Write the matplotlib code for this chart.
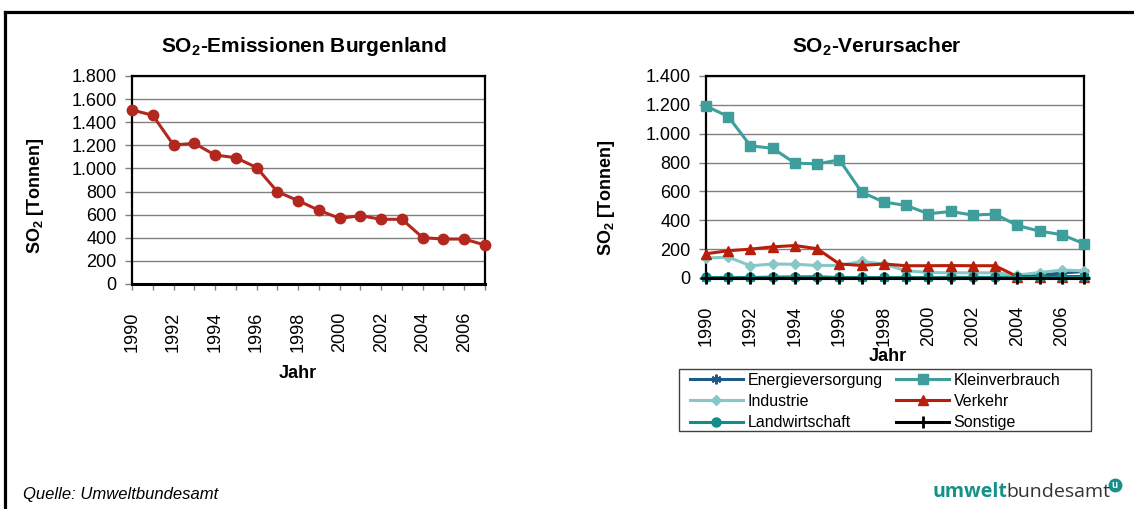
import matplotlib
matplotlib.use("Agg")
import matplotlib.pyplot as plt
from matplotlib.ticker import FuncFormatter, MultipleLocator
from matplotlib.lines import Line2D
from matplotlib.patches import Rectangle

plt.rcParams['font.family'] = ['Liberation Sans', 'DejaVu Sans']
plt.rcParams['mathtext.fontset'] = 'custom'
plt.rcParams['mathtext.rm'] = 'Liberation Sans'
plt.rcParams['mathtext.bf'] = 'Liberation Sans:bold'
plt.rcParams['mathtext.it'] = 'Liberation Sans:italic'

# ---------------- data ----------------
years = list(range(1990, 2008))
total = [1506, 1460, 1203, 1217, 1116, 1093, 1008, 799, 721, 638, 568, 591, 560, 560, 401, 389, 389, 337]

sector_names = ["Energieversorgung", "Kleinverbrauch", "Industrie", "Verkehr", "Landwirtschaft", "Sonstige"]
energie = [3, 3, 3, 6, 7, 8, 3, 3, 3, 3, 3, 4, 4, 4, 10, 20, 35, 45]
klein = [1192, 1119, 916, 899, 796, 791, 819, 595, 526, 503, 445, 461, 436, 443, 364, 325, 300, 238]
industrie = [138, 145, 85, 97, 95, 87, 87, 115, 97, 50, 38, 36, 36, 36, 20, 38, 55, 50]
verkehr = [168, 189, 200, 216, 225, 203, 97, 87, 97, 85, 85, 86, 85, 85, 10, 10, 10, 10]
landwirtschaft = [5] * 18
sonstige = [1] * 18

W, H = 1134, 509
fig = plt.figure(figsize=(W / 100, H / 100), dpi=100)
fig.patch.set_facecolor('white')

def fx(px):
    return px / W

def fy(py):
    return 1 - py / H

# outer frame (top and left edges visible)
fig.add_artist(Line2D([fx(5), fx(W + 5)], [fy(12), fy(12)], transform=fig.transFigure, color='black', lw=2.3))
fig.add_artist(Line2D([fx(5), fx(5)], [fy(12), fy(H + 5)], transform=fig.transFigure, color='black', lw=2.3))

thousands = FuncFormatter(lambda v, p: f"{int(v):,}".replace(",", "."))
xpos = list(range(len(years)))
xlabels = [str(y) if y % 2 == 0 else "" for y in years]

def style_axes(ax, ymax, ystep):
    ax.set_ylim(0, ymax)
    ax.yaxis.set_major_locator(MultipleLocator(ystep))
    ax.yaxis.set_major_formatter(thousands)
    ax.set_xlim(0, len(years) - 1)
    ax.set_xticks(xpos)
    ax.set_xticklabels(xlabels, rotation=90)
    ax.grid(axis='y', color='#808080', lw=1.0)
    ax.set_axisbelow(True)
    for s in ax.spines.values():
        s.set_color('black')
        s.set_linewidth(1.6)
    ax.tick_params(axis='y', labelsize=13, length=5, width=1, color='#808080', pad=6)
    ax.tick_params(axis='x', labelsize=13, length=4, width=1, color='#808080', pad=16)
    ax.spines['bottom'].set_linewidth(2.2)

SO2 = r'$\mathbf{SO_2}$'

# ---------------- left chart ----------------
axL = fig.add_axes([fx(132), fy(284), fx(485) - fx(132), fy(76) - fy(284)])
style_axes(axL, 1800, 200)
axL.plot(xpos, total, color='#B2281E', lw=2.2, marker='o', markersize=7.5, clip_on=False, zorder=3)
axL.set_ylabel(SO2 + ' [Tonnen]', fontsize=13, fontweight='bold')
axL.yaxis.set_label_coords((46 - 132) / 353, (284 - 196) / 208)
axL.set_xlabel('Jahr', fontsize=13, fontweight='bold')
axL.xaxis.set_label_coords(0.47, (284 - 365) / 208)
fig.text(fx(304), fy(47), SO2 + '-Emissionen Burgenland', fontsize=15, fontweight='bold',
         ha='center', va='center')

# ---------------- right chart ----------------
axR = fig.add_axes([fx(706), fy(278), fx(1084) - fx(706), fy(76) - fy(278)])
style_axes(axR, 1400, 200)
series = [energie, klein, industrie, verkehr, landwirtschaft, sonstige]
colors = ['#1F5A86', '#3D9E9B', '#86C7C7', '#B81E0A', '#148C8A', '#000000']
markers = [(6, 2, 0), 's', 'D', '^', 'o', '+']
msizes = [7, 7.5, 5.5, 7.5, 6.5, 8]
handles = []
for i, (name, vals, c, m, ms) in enumerate(zip(sector_names, series, colors, markers, msizes)):
    mew = 2.0 if m == '+' else (1.5 if i == 0 else 1.0)
    h, = axR.plot(xpos, vals, color=c, lw=2.2, marker=m, markersize=ms, markeredgewidth=mew,
                  markeredgecolor=c, label=name, clip_on=False, zorder=3 + i)
    handles.append(h)
axR.set_ylabel(SO2 + ' [Tonnen]', fontsize=13, fontweight='bold')
axR.yaxis.set_label_coords((617 - 706) / 378, (278 - 198) / 202)
axR.set_xlabel('Jahr', fontsize=13, fontweight='bold')
axR.xaxis.set_label_coords((888 - 706) / 378, (278 - 348) / 202)
fig.text(fx(877), fy(47), SO2 + '-Verursacher', fontsize=15, fontweight='bold',
         ha='center', va='center')

# legend: row-major order (matplotlib fills columns first)
order = [0, 2, 4, 1, 3, 5]
leg = fig.legend([handles[k] for k in order], [sector_names[k] for k in order], ncol=2,
                 loc='upper left', bbox_to_anchor=(fx(690), fy(373)),
                 fontsize=11.5, frameon=False, handlelength=3.3, handletextpad=0.3,
                 borderpad=0, labelspacing=0.38, columnspacing=0.85, borderaxespad=0)
fig.add_artist(Rectangle((fx(679), fy(431)), fx(1091) - fx(679), fy(369) - fy(431),
                         transform=fig.transFigure, fill=False, edgecolor='#404040', lw=1.0))

# ---------------- footer ----------------
fig.text(fx(23), fy(495), 'Quelle: Umweltbundesamt', fontsize=12, style='italic', ha='left', va='center')

fig.canvas.draw()
r = fig.canvas.get_renderer()
t1 = fig.text(fx(933), fy(497), 'umwelt', fontsize=14, fontweight='bold', color='#16918A',
              family=['Open Sans', 'DejaVu Sans'], ha='left', va='baseline')
bb = t1.get_window_extent(renderer=r)
t2 = fig.text((bb.x1 - 2) / W, fy(497), 'bundesamt', fontsize=14, color='#333333',
              family=['Open Sans', 'DejaVu Sans'], ha='left', va='baseline')
bb2 = t2.get_window_extent(renderer=r)
cx = (bb2.x1 + 5) / W
fig.add_artist(Line2D([cx], [fy(485)], transform=fig.transFigure, marker='o', markersize=9,
                      color='#16918A', markeredgecolor='#16918A'))
fig.text(cx, fy(485.5), 'u', fontsize=7, fontweight='bold', color='white', ha='center', va='center')

fig.savefig('out.png', dpi=100, facecolor='white')
